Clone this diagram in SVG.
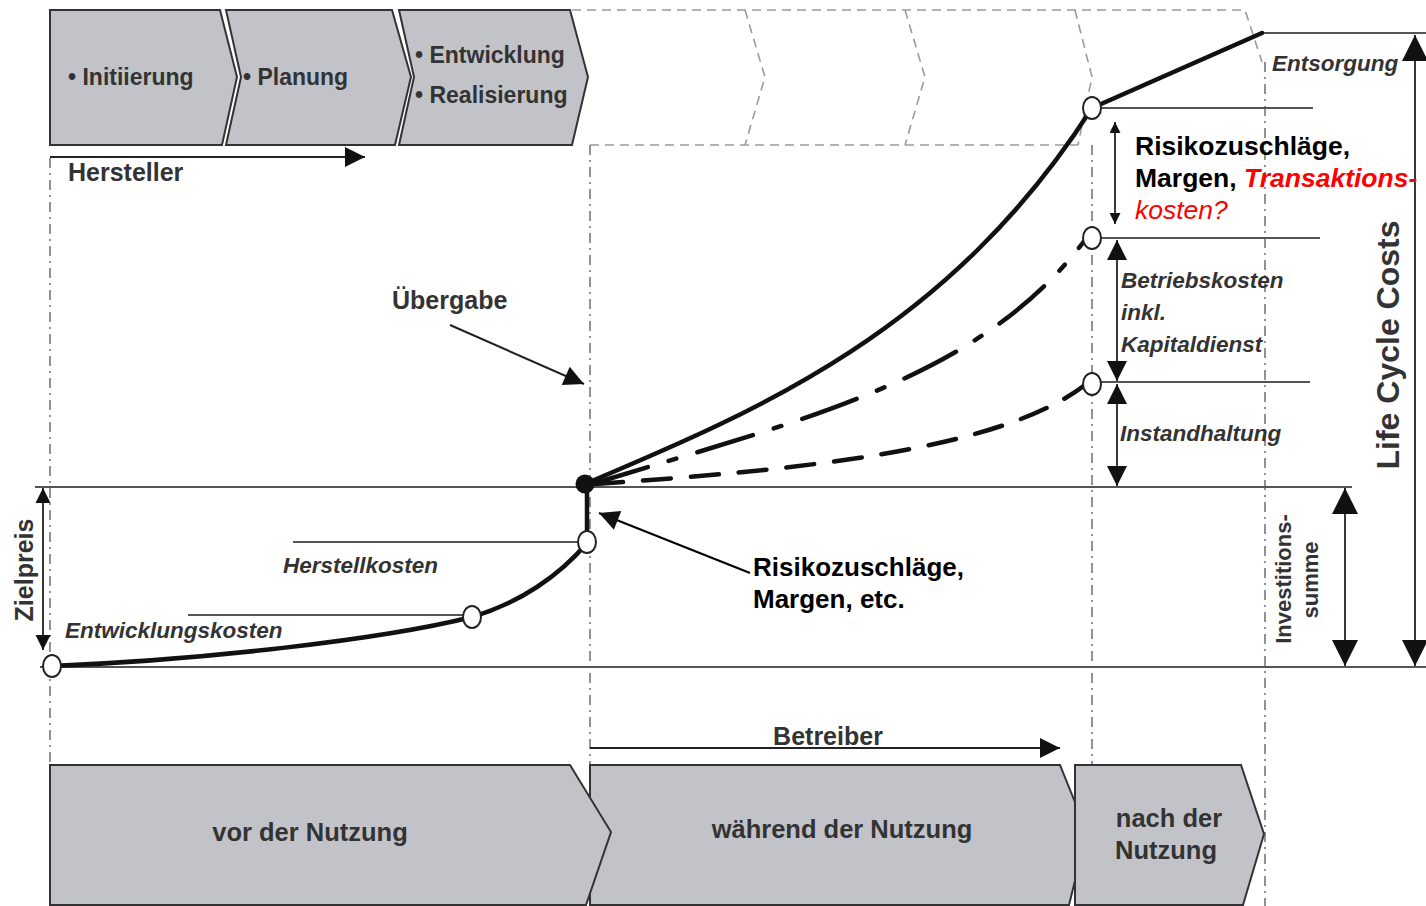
<svg xmlns="http://www.w3.org/2000/svg" width="1426" height="906" viewBox="0 0 1426 906">
  <style>
    .phase { fill: #c1c3c9; stroke: #333; stroke-width: 2; stroke-linejoin: miter; }
    .ghost { fill: none; stroke: #9a9a9a; stroke-width: 1.6; stroke-dasharray: 9 6; }
    .guide { fill: none; stroke: #777; stroke-width: 1.6; stroke-dasharray: 10 5 2 5; }
    .level { fill: none; stroke: #555; stroke-width: 2; }
    .curve { fill: none; stroke: #111; stroke-width: 4.5; stroke-linecap: round; }
    .pt { fill: #fff; stroke: #222; stroke-width: 2; }
    .lbl { font-family: "Liberation Sans", Arial, sans-serif; font-weight: bold; fill: #333; }
    .it { font-style: italic; }
    .blk { fill: #000; }
    .red { fill: #ff0000; }
    .dim { stroke: #222; stroke-width: 1.8; fill: none; }
  </style>
  <defs>
    <marker id="ah-s" viewBox="0 0 10 10" refX="10" refY="5" markerWidth="13" markerHeight="11" markerUnits="userSpaceOnUse" orient="auto-start-reverse">
      <path d="M0,0 L10,5 L0,10 z" fill="#111"/>
    </marker>
    <marker id="ah-z" viewBox="0 0 10 10" refX="10" refY="5" markerWidth="15" markerHeight="16" markerUnits="userSpaceOnUse" orient="auto-start-reverse">
      <path d="M0,0 L10,5 L0,10 z" fill="#111"/>
    </marker>
    <marker id="ah-m" viewBox="0 0 10 10" refX="10" refY="5" markerWidth="22" markerHeight="20" markerUnits="userSpaceOnUse" orient="auto-start-reverse">
      <path d="M0,0 L10,5 L0,10 z" fill="#111"/>
    </marker>
    <marker id="ah-l" viewBox="0 0 10 10" refX="10" refY="5" markerWidth="26" markerHeight="26" markerUnits="userSpaceOnUse" orient="auto-start-reverse">
      <path d="M0,0 L10,5 L0,10 z" fill="#111"/>
    </marker>
  </defs>

  <rect width="1426" height="906" fill="#fff"/>

  <!-- future phases (outline only) -->
  <g id="future-phases">
    <path class="ghost" d="M572,10 H1245 L1262,62"/>
    <path class="ghost" d="M590,145 H1078"/>
    <path class="ghost" d="M745,10 L765,77 L745,145"/>
    <path class="ghost" d="M905,10 L925,77 L905,145"/>
    <path class="ghost" d="M1075,10 L1092,77 L1078,145"/>
  </g>

  <!-- vertical guide lines -->
  <g id="guides">
    <line class="guide" x1="50" y1="158" x2="50" y2="765"/>
    <line class="guide" x1="590" y1="145" x2="590" y2="765"/>
    <line class="guide" x1="1092" y1="145" x2="1092" y2="765"/>
    <line class="guide" x1="1265" y1="62" x2="1265" y2="906"/>
  </g>

  <!-- top phase chevrons -->
  <g id="phase-initiierung">
    <polygon class="phase" points="50,10 220,10 237,77 222,145 50,145"/>
    <text class="lbl" x="68" y="85" font-size="23">• Initiierung</text>
  </g>
  <g id="phase-planung">
    <polygon class="phase" points="226,10 392,10 411,77 395,145 226,145 241,77"/>
    <text class="lbl" x="243" y="85" font-size="23">• Planung</text>
  </g>
  <g id="phase-entwicklung">
    <polygon class="phase" points="399,10 570,10 588,77 572,145 399,145 414,77"/>
    <text class="lbl" x="415" y="63" font-size="23">• Entwicklung</text>
    <text class="lbl" x="415" y="103" font-size="23">• Realisierung</text>
  </g>

  <!-- bottom phase chevrons -->
  <g id="phase-waehrend">
    <polygon class="phase" points="590,765 1060,765 1087,832 1069,905 590,905"/>
    <text class="lbl" x="842" y="838" font-size="25.5" text-anchor="middle">während der Nutzung</text>
  </g>
  <g id="phase-vor">
    <polygon class="phase" points="50,765 570,765 611,832 586,905 50,905"/>
    <text class="lbl" x="310" y="841" font-size="25.5" text-anchor="middle">vor der Nutzung</text>
  </g>
  <g id="phase-nach">
    <polygon class="phase" points="1075,765 1241,765 1264,834 1243,905 1075,905"/>
    <text class="lbl" x="1169" y="827" font-size="25.5" text-anchor="middle">nach der</text>
    <text class="lbl" x="1166" y="859" font-size="25.5" text-anchor="middle">Nutzung</text>
  </g>

  <!-- cost levels -->
  <g id="levels">
    <line class="level" x1="35" y1="487" x2="1352" y2="487"/>
    <line class="level" x1="40" y1="667" x2="1426" y2="667"/>
    <line class="level" x1="1262" y1="33" x2="1426" y2="33"/>
    <line class="level" x1="1092" y1="108" x2="1313" y2="108"/>
    <line class="level" x1="1092" y1="238" x2="1320" y2="238"/>
    <line class="level" x1="1092" y1="382" x2="1310" y2="382"/>
    <line class="level" x1="293" y1="542" x2="587" y2="542"/>
    <line class="level" x1="188" y1="615" x2="472" y2="615"/>
  </g>

  <!-- connectors: cost curves and arrows -->
  <g id="connectors">
    <path class="curve" stroke-width="4" d="M52,666 C200,660 380,640 472,617 C520,603 560,575 587,543"/>
    <line class="curve" x1="587" y1="542" x2="587" y2="486"/>
    <path class="curve" d="M585,484 C760,410 950,330 1092,108 L1262,33"/>
    <path class="curve" stroke-width="5" stroke-linecap="butt" stroke-dasharray="58 22 8 22" d="M592,484 C800,420 980,380 1085,240"/>
    <path class="curve" stroke-width="4" stroke-linecap="butt" stroke-dasharray="28 20" d="M595,484 C800,470 1000,450 1085,385"/>

    <!-- Hersteller / Betreiber -->
    <line x1="50" y1="157" x2="365" y2="157" stroke="#222" stroke-width="2" marker-end="url(#ah-m)"/>
    <line x1="590" y1="748" x2="1060" y2="748" stroke="#222" stroke-width="2" marker-end="url(#ah-m)"/>

    <!-- Übergabe pointer -->
    <line x1="450" y1="325" x2="584" y2="384" stroke="#222" stroke-width="2" marker-end="url(#ah-m)"/>
    <!-- Risikozuschläge pointer -->
    <line x1="750" y1="573" x2="599" y2="513" stroke="#000" stroke-width="2.2" marker-end="url(#ah-m)"/>

    <!-- dimension arrows -->
    <line class="dim" x1="1115" y1="122" x2="1115" y2="224" stroke="#000" marker-start="url(#ah-s)" marker-end="url(#ah-s)"/>
    <line class="dim" x1="1117" y1="240" x2="1117" y2="381" marker-start="url(#ah-m)" marker-end="url(#ah-m)"/>
    <line class="dim" x1="1117" y1="384" x2="1117" y2="486" marker-start="url(#ah-m)" marker-end="url(#ah-m)"/>
    <line class="dim" x1="43" y1="488" x2="43" y2="650" marker-start="url(#ah-z)" marker-end="url(#ah-z)"/>
    <line class="dim" x1="1345" y1="488" x2="1345" y2="666" marker-start="url(#ah-l)" marker-end="url(#ah-l)"/>
    <line class="dim" x1="1415" y1="35" x2="1415" y2="666" marker-start="url(#ah-l)" marker-end="url(#ah-l)"/>
  </g>

  <!-- curve points -->
  <g id="points">
    <ellipse class="pt" cx="52" cy="666" rx="9" ry="11"/>
    <ellipse class="pt" cx="472" cy="617" rx="9" ry="11"/>
    <ellipse class="pt" cx="587" cy="542" rx="9" ry="11"/>
    <circle cx="585" cy="484" r="9.5" fill="#111"/>
    <ellipse class="pt" cx="1092" cy="108" rx="9" ry="11"/>
    <ellipse class="pt" cx="1092" cy="238" rx="9" ry="11"/>
    <ellipse class="pt" cx="1092" cy="384" rx="9" ry="11"/>
  </g>

  <!-- labels -->
  <g id="labels">
    <text class="lbl" x="68" y="181" font-size="25">Hersteller</text>
    <text class="lbl" x="828" y="745" font-size="25" text-anchor="middle">Betreiber</text>
    <text class="lbl" x="392" y="309" font-size="25">Übergabe</text>
    <text class="lbl blk" x="753" y="576" font-size="26">Risikozuschläge,</text>
    <text class="lbl blk" x="753" y="608" font-size="26">Margen, etc.</text>
    <text class="lbl blk" x="1135" y="155" font-size="26.5">Risikozuschläge,</text>
    <text class="lbl blk" x="1135" y="187" font-size="26.5">Margen, <tspan class="red it">Transaktions-</tspan></text>
    <text class="lbl red it" x="1135" y="219" font-size="26.5" style="font-weight:normal">kosten?</text>
    <text class="lbl it" x="1272" y="71" font-size="22.5">Entsorgung</text>
    <text class="lbl it" x="1121" y="288" font-size="22.5">Betriebskosten</text>
    <text class="lbl it" x="1121" y="320" font-size="22.5">inkl.</text>
    <text class="lbl it" x="1121" y="352" font-size="22.5">Kapitaldienst</text>
    <text class="lbl it" x="1120" y="441" font-size="22.5">Instandhaltung</text>
    <text class="lbl it" x="283" y="573" font-size="22.5">Herstellkosten</text>
    <text class="lbl it" x="65" y="638" font-size="22.5">Entwicklungskosten</text>
    <text class="lbl" font-size="25" text-anchor="middle" transform="translate(33,570) rotate(-90)">Zielpreis</text>
    <text class="lbl" font-size="22" text-anchor="middle" transform="translate(1291,579) rotate(-90)">Investitions-</text>
    <text class="lbl" font-size="22" text-anchor="middle" transform="translate(1318,580) rotate(-90)">summe</text>
    <text class="lbl" font-size="32" text-anchor="middle" transform="translate(1399,345) rotate(-90)" fill="#222">Life Cycle Costs</text>
  </g>
</svg>
